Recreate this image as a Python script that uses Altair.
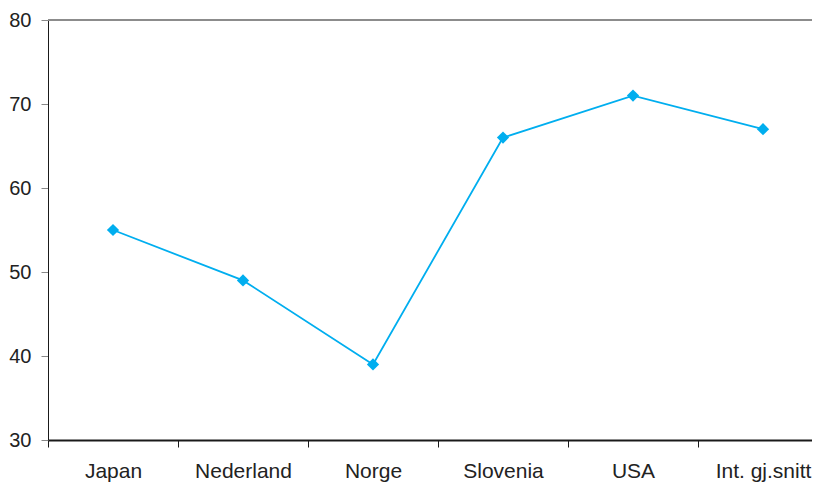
import altair as alt
import pandas as pd

countries = ["Japan", "Nederland", "Norge", "Slovenia", "USA", "Int. gj.snitt"]
values = [55, 49, 39, 66, 71, 67]

df = pd.DataFrame({"land": countries, "verdi": values})

x = alt.X("land:N", sort=countries, title=None,
          scale=alt.Scale(paddingInner=0, paddingOuter=0, range=[0, 780]),
          axis=alt.Axis(labelAngle=0, tickBand="extent", domainColor="#1a1a1a",
                        domainWidth=2, tickColor="#1a1a1a", tickSize=7,
                        labelFont="Liberation Sans", labelFontSize=21,
                        labelColor="#222222", labelPadding=13, grid=False))
y = alt.Y("verdi:Q", title=None,
          scale=alt.Scale(domain=[30, 80], nice=False, zero=False),
          axis=alt.Axis(values=[30, 40, 50, 60, 70, 80], domainColor="#1a1a1a",
                        tickColor="#888888", tickSize=7, labelFont="Liberation Sans",
                        labelFontSize=20, labelColor="#222222", labelPadding=10,
                        grid=False))

line = alt.Chart(df).mark_line(color="#00AEEF", strokeWidth=1.8).encode(x=x, y=y)
pts = alt.Chart(df).mark_point(shape="diamond", filled=True, color="#00AEEF",
                               size=150, opacity=1).encode(x=x, y=y)
top = alt.Chart(pd.DataFrame({"v": [80]})).mark_rule(color="#8c8c8c", strokeWidth=2).encode(
    y=alt.Y("v:Q"), x=alt.value(0), x2=alt.value(780))

chart = alt.layer(top, line, pts).properties(
    width=764, height=420,
    autosize=alt.AutoSizeParams(type="none"),
    padding={"left": 40, "top": 12, "right": 0, "bottom": 45}
).configure_view(stroke=None).configure(background="white")

chart.save("out.html", embed_options={"renderer": "svg", "actions": False})
